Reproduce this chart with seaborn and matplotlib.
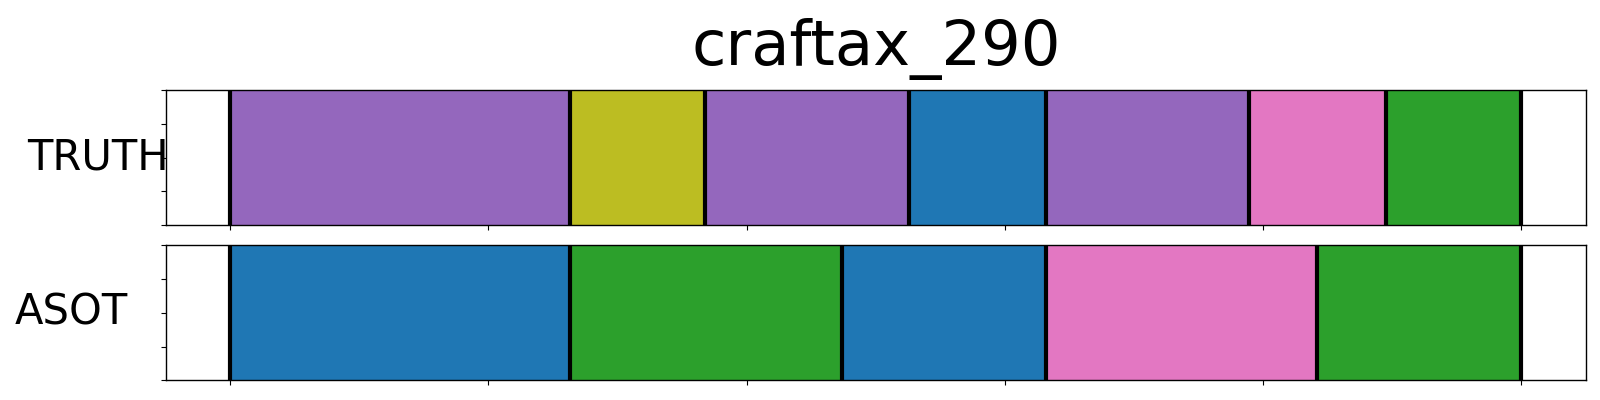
import matplotlib
matplotlib.use("Agg")
import matplotlib.pyplot as plt
import seaborn as sns
import numpy as np
import pandas as pd

title = "craftax_290"
row_names = ["TRUTH", "ASOT"]

# segment boundaries (percent of episode) and class ids per row
truth_edges = [0, 26.3, 36.8, 52.6, 63.2, 78.9, 89.5, 100]
truth_labels = ["4", "8", "4", "0", "4", "6", "2"]
asot_edges = [0, 26.3, 47.4, 63.2, 84.2, 100]
asot_labels = ["0", "2", "0", "6", "2"]

tab10 = sns.color_palette("tab10")
palette = {str(i): tab10[i] for i in range(10)}

fig = plt.figure(figsize=(16, 4), dpi=100)
ax1 = fig.add_axes([0.1036, 0.4370, 0.8875, 0.3375])
ax2 = fig.add_axes([0.1036, 0.0493, 0.8875, 0.3375])

rows = [(ax1, truth_edges, truth_labels, "TRUTH", -0.048),
        (ax2, asot_edges, asot_labels, "ASOT", -0.0667)]

for ax, edges, labels, name, lx in rows:
    df = pd.DataFrame({
        "start": edges[:-1],
        "label": labels,
        "w": [1.0] * len(labels),
    })
    sns.histplot(data=df, x="start", weights="w", bins=edges, hue="label",
                 palette=palette, multiple="layer", alpha=1, linewidth=0,
                 legend=False, ax=ax, stat="count")
    ax.vlines(edges, 0, 1, colors="black", linewidth=3.0, zorder=3)
    ax.set_xlim(-5, 105)
    ax.set_ylim(0, 1)
    ax.set_xticks([0, 20, 40, 60, 80, 100])
    ax.set_yticks([0, 0.25, 0.5, 0.75, 1.0])
    ax.set_xticklabels([])
    ax.set_yticklabels([])
    ax.set_xlabel("")
    ax.set_ylabel(name, rotation=0, fontsize=30, ha="center", va="center")
    ax.yaxis.set_label_coords(lx, 0.5)
    for s in ax.spines.values():
        s.set_color("black")
        s.set_linewidth(1.0)
    ax.tick_params(direction="out", length=3.5, width=0.8, color="black")

ax1.set_title(title, fontsize=45, pad=18)

fig.savefig("out.png", dpi=100, facecolor="white")
